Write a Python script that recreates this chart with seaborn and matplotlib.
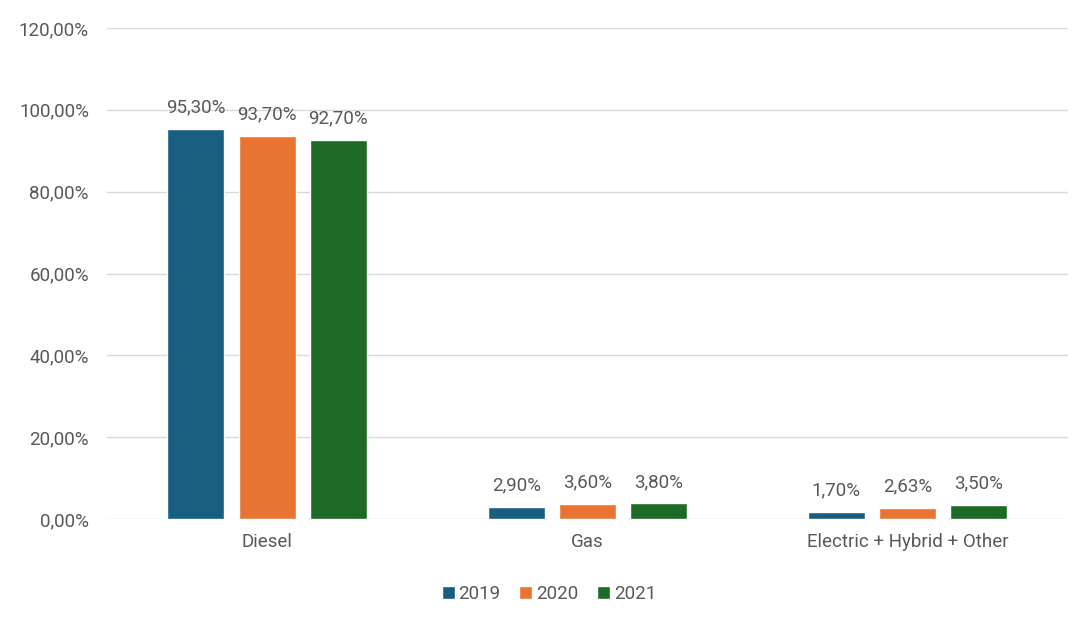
import matplotlib
matplotlib.use("Agg")
import matplotlib.pyplot as plt
import seaborn as sns
import pandas as pd
from matplotlib.ticker import FuncFormatter, MultipleLocator

categories = ["Diesel", "Gas", "Electric + Hybrid + Other"]
years = ["2019", "2020", "2021"]
values_2019 = [95.30, 2.90, 1.70]
values_2020 = [93.70, 3.60, 2.63]
values_2021 = [92.70, 3.80, 3.50]
colors = ["#175E7F", "#E87433", "#1D6B26"]

rows = []
for y, vals in zip(years, [values_2019, values_2020, values_2021]):
    for c, v in zip(categories, vals):
        rows.append({"cat": c, "year": y, "value": v})
df = pd.DataFrame(rows)

sns.set_theme(style="white")
plt.rcParams["font.family"] = ["Roboto", "DejaVu Sans"]
FS = 13.5

fig = plt.figure(figsize=(10.83, 6.17), dpi=100)
ax = fig.add_axes([0.0988, 0.1588, 0.8872, 0.7958])

sns.barplot(data=df, x="cat", y="value", hue="year", palette=colors,
            order=categories, hue_order=years, width=0.667, gap=0.2,
            ax=ax, legend=True, saturation=1)

ax.set_ylim(0, 120)
ax.set_xlim(-0.5, 2.5)
ax.yaxis.set_major_locator(MultipleLocator(20))
ax.yaxis.set_major_formatter(FuncFormatter(lambda v, p: f"{v:.2f}".replace(".", ",") + "%"))
ax.grid(axis="y", color="#D9D9D9", linewidth=1)
ax.set_axisbelow(True)
for s in ax.spines.values():
    s.set_visible(False)
ax.set_xlabel("")
ax.set_ylabel("")
ax.tick_params(axis="both", length=0, labelsize=FS, labelcolor="#595959")
ax.tick_params(axis="y", pad=13)
ax.tick_params(axis="x", pad=10)

for cont in ax.containers:
    labels = [f"{v:.2f}".replace(".", ",") + "%" for v in cont.datavalues]
    ax.bar_label(cont, labels=labels, padding=9, fontsize=FS, color="#595959")

handles, labs = ax.get_legend_handles_labels()
ax.legend(handles, labs, loc="upper center", bbox_to_anchor=(0.46, -0.1),
          ncol=3, frameon=False, fontsize=FS, labelcolor="#595959",
          handlelength=0.7, handleheight=0.7, handletextpad=0.2, columnspacing=1.0)

fig.savefig("out.png", dpi=100)
